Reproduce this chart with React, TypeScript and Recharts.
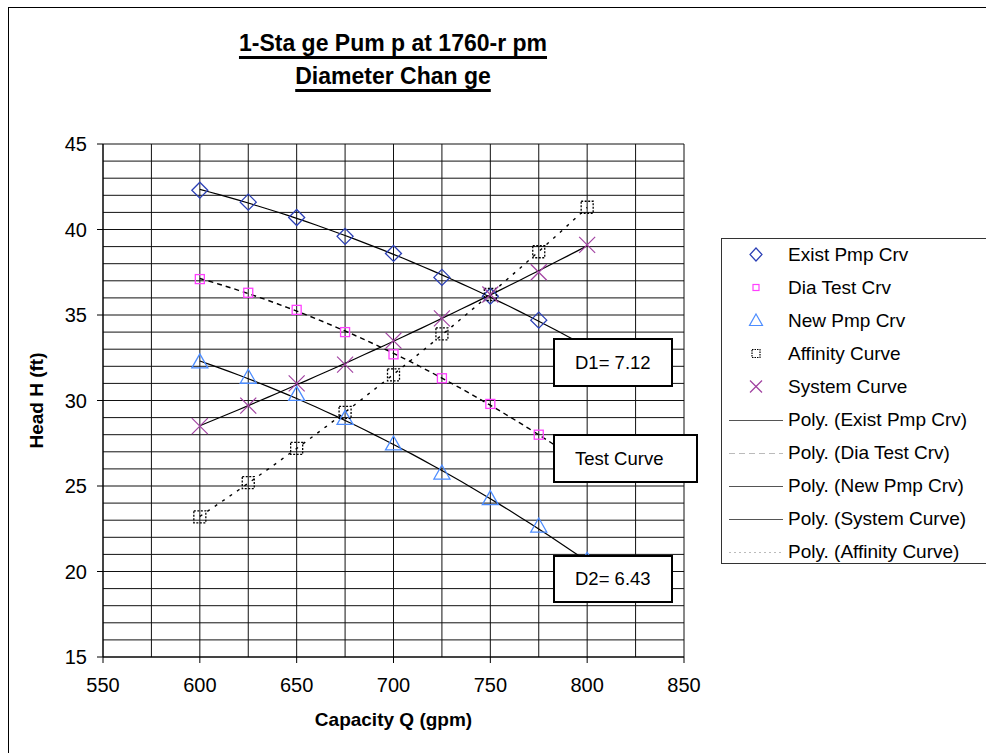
import React from 'react';
import { ScatterChart, Scatter, XAxis, YAxis, CartesianGrid, Legend } from 'recharts';

// capacity points (gpm) shared by every series
const capacity = [600, 625, 650, 675, 700, 725, 750, 775, 800];

// head (ft)
const existPump = [42.3, 41.6, 40.7, 39.6, 38.6, 37.2, 36.1, 34.7, 33.1];
const diaTest = [37.1, 36.3, 35.3, 34.0, 32.7, 31.3, 29.8, 28.0, 26.1];
const newPump = [32.2, 31.3, 30.3, 28.9, 27.4, 25.7, 24.2, 22.6, 20.6];
const affinity = [23.2, 25.2, 27.2, 29.3, 31.5, 33.9, 36.2, 38.7, 41.3];
const systemCurve = [28.5, 29.7, 31.0, 32.1, 33.5, 34.8, 36.2, 37.5, 39.1];

const xTicks = [550, 575, 600, 625, 650, 675, 700, 725, 750, 775, 800, 825, 850];
const yTicks = [
  15, 16, 17, 18, 19, 20, 21, 22, 23, 24, 25, 26, 27, 28, 29, 30,
  31, 32, 33, 34, 35, 36, 37, 38, 39, 40, 41, 42, 43, 44, 45,
];

const markerNames = ['Exist Pmp Crv', 'Dia Test Crv', 'New Pmp Crv', 'Affinity Curve', 'System Curve'];
const trendNames = [
  'Poly. (Exist Pmp Crv)',
  'Poly. (Dia Test Crv)',
  'Poly. (New Pmp Crv)',
  'Poly. (System Curve)',
  'Poly. (Affinity Curve)',
];

const toPoints = (heads: number[]) => capacity.map((x, i) => ({ x, y: heads[i] }));

// 2nd order least squares, same as the Excel "Poly." trendline
function polyTrend(heads: number[]) {
  let s0 = 0, s1 = 0, s2 = 0, s3 = 0, s4 = 0, t0 = 0, t1 = 0, t2 = 0;
  capacity.forEach((q, i) => {
    const u = (q - 700) / 100;
    const h = heads[i];
    s0 += 1; s1 += u; s2 += u * u; s3 += u * u * u; s4 += u * u * u * u;
    t0 += h; t1 += u * h; t2 += u * u * h;
  });
  const m = [
    [s0, s1, s2, t0],
    [s1, s2, s3, t1],
    [s2, s3, s4, t2],
  ];
  for (let c = 0; c < 3; c++) {
    for (let r = c + 1; r < 3; r++) {
      const f = m[r][c] / m[c][c];
      for (let k = c; k < 4; k++) m[r][k] -= f * m[c][k];
    }
  }
  const coef = [0, 0, 0];
  for (let r = 2; r >= 0; r--) {
    let v = m[r][3];
    for (let k = r + 1; k < 3; k++) v -= m[r][k] * coef[k];
    coef[r] = v / m[r][r];
  }
  const pts: { x: number; y: number }[] = [];
  for (let q = capacity[0]; q <= capacity[capacity.length - 1]; q += 5) {
    const u = (q - 700) / 100;
    pts.push({ x: q, y: coef[0] + coef[1] * u + coef[2] * u * u });
  }
  return pts;
}

const Diamond = ({ cx, cy }: any) => (
  <polygon
    points={`${cx},${cy - 8} ${cx + 8},${cy} ${cx},${cy + 8} ${cx - 8},${cy}`}
    fill="none" stroke="#2b3fb5" strokeWidth={1.3}
  />
);
const PinkSquare = ({ cx, cy }: any) => (
  <rect x={cx - 4.5} y={cy - 4.5} width={9} height={9} fill="none" stroke="#ff40ff" strokeWidth={1.3} />
);
const Triangle = ({ cx, cy }: any) => (
  <polygon
    points={`${cx},${cy - 9} ${cx + 8},${cy + 5} ${cx - 8},${cy + 5}`}
    fill="none" stroke="#4d8dff" strokeWidth={1.3}
  />
);
const DottedSquare = ({ cx, cy }: any) => (
  <rect x={cx - 6} y={cy - 6} width={12} height={12} fill="none" stroke="#000" strokeWidth={1.3} strokeDasharray="2 1.5" />
);
const Cross = ({ cx, cy }: any) => (
  <g stroke="#a040a0" strokeWidth={1.2}>
    <line x1={cx - 8} y1={cy - 8} x2={cx + 8} y2={cy + 8} />
    <line x1={cx - 8} y1={cy + 8} x2={cx + 8} y2={cy - 8} />
  </g>
);
const NoDot = () => <g />;

const XTick = ({ x, y, payload }: any) => {
  if (payload.value % 50 !== 0) return <g />;
  return (
    <g>
      <line x1={x} x2={x} y1={y} y2={y + 6} stroke="#000" />
      <text x={x} y={y + 35} textAnchor="middle" fontSize={20} fill="#000">{payload.value}</text>
    </g>
  );
};

const YTick = ({ x, y, payload }: any) => {
  if (payload.value % 5 !== 0) return <g />;
  return (
    <g>
      <line x1={x - 6} x2={x} y1={y} y2={y} stroke="#000" />
      <text x={x - 16} y={y + 7} textAnchor="end" fontSize={20} fill="#000">{payload.value}</text>
    </g>
  );
};

const legendIcons = [
  <polygon key="d" points="34,10 40,16.5 34,23 28,16.5" fill="none" stroke="#2b3fb5" strokeWidth={1.2} />,
  <rect key="s" x={31} y={13.5} width={6} height={6} fill="none" stroke="#ff40ff" strokeWidth={1.2} />,
  <polygon key="t" points="34,10 40.5,21.5 27.5,21.5" fill="none" stroke="#4d8dff" strokeWidth={1.2} />,
  <rect key="a" x={30} y={12.5} width={8} height={8} fill="none" stroke="#000" strokeWidth={1.2} strokeDasharray="1.5 1" />,
  <g key="x" stroke="#a040a0" strokeWidth={1.2}>
    <line x1={28} y1={10.5} x2={40} y2={22.5} />
    <line x1={28} y1={22.5} x2={40} y2={10.5} />
  </g>,
  <line key="l1" x1={7} x2={61} y1={16.5} y2={16.5} stroke="#555" strokeWidth={1.2} />,
  <line key="l2" x1={7} x2={61} y1={16.5} y2={16.5} stroke="#bbb" strokeWidth={1.2} strokeDasharray="6 4" />,
  <line key="l3" x1={7} x2={61} y1={16.5} y2={16.5} stroke="#555" strokeWidth={1.2} />,
  <line key="l4" x1={7} x2={61} y1={16.5} y2={16.5} stroke="#555" strokeWidth={1.2} />,
  <line key="l5" x1={7} x2={61} y1={16.5} y2={16.5} stroke="#bbb" strokeWidth={1.2} strokeDasharray="2 3" />,
];

const PumpLegend = () => {
  const names = [...markerNames, ...trendNames];
  return (
    <div
      style={{
        width: 300, height: 326, boxSizing: 'border-box', border: '1px solid #333',
        background: '#fff', position: 'relative',
      }}
    >
      {names.map((name, i) => (
        <div
          key={name}
          style={{ position: 'absolute', left: 0, top: i * 33.1 - 1, height: 33, display: 'flex', alignItems: 'center' }}
        >
          <svg width={66} height={33} style={{ display: 'block' }}>{legendIcons[i]}</svg>
          <span style={{ fontSize: 19, color: '#000', whiteSpace: 'nowrap' }}>{name}</span>
        </div>
      ))}
    </div>
  );
};

const boxStyle: React.CSSProperties = {
  position: 'absolute', boxSizing: 'border-box', border: '2px solid #000', background: '#fff',
  fontSize: 18.5, display: 'flex', alignItems: 'center', paddingLeft: 20, color: '#000',
};

export default function App() {
  return (
    <div
      style={{
        position: 'absolute', left: 0, top: 0, width: 986, height: 753, overflow: 'hidden',
        background: '#fff', fontFamily: '"Liberation Sans", Arial, sans-serif',
      }}
    >
      <div style={{ position: 'absolute', left: 8, top: 7, width: 1200, height: 1000, border: '1px solid #000' }} />
      <div
        style={{
          position: 'absolute', left: 193, top: 27, width: 400, textAlign: 'center', fontWeight: 'bold',
          fontSize: 23, lineHeight: '33px', textDecoration: 'underline', textDecorationThickness: 3,
          textUnderlineOffset: 5, color: '#000',
        }}
      >
        <div>1-Sta ge Pum p at 1760-r pm</div>
        <div>Diameter Chan ge</div>
      </div>
      <ScatterChart
        width={986}
        height={753}
        margin={{ top: 144, right: 302, bottom: 56, left: 23 }}
        style={{ position: 'absolute', left: 0, top: 0 }}
      >
        <CartesianGrid stroke="#111" strokeWidth={1} />
        <XAxis
          type="number"
          dataKey="x"
          domain={[550, 850]}
          ticks={xTicks}
          interval={0}
          height={40}
          tickSize={0}
          tickMargin={0}
          tickLine={false}
          tick={<XTick />}
          axisLine={{ stroke: '#000' }}
          label={{ value: 'Capacity Q (gpm)', position: 'bottom', offset: 16, fontWeight: 'bold', fontSize: 19, fill: '#000' }}
        />
        <YAxis
          type="number"
          dataKey="y"
          domain={[15, 45]}
          ticks={yTicks}
          interval={0}
          width={80}
          tickSize={0}
          tickMargin={0}
          tickLine={false}
          tick={<YTick />}
          axisLine={{ stroke: '#000' }}
          label={{
            value: 'Head H (ft)', angle: -90, position: 'insideLeft', offset: 13,
            fontWeight: 'bold', fontSize: 19, fill: '#000', style: { textAnchor: 'middle' },
          }}
        />
        <Legend
          layout="vertical"
          align="center"
          verticalAlign="middle"
          content={<PumpLegend />}
          wrapperStyle={{ left: 721, top: 238, width: 300, height: 326 }}
        />
        <Scatter name={trendNames[0]} data={polyTrend(existPump)} shape={NoDot} line={{ stroke: '#000', strokeWidth: 1.2 }} lineType="joint" isAnimationActive={false} />
        <Scatter name={trendNames[1]} data={polyTrend(diaTest)} shape={NoDot} line={{ stroke: '#000', strokeWidth: 1.4, strokeDasharray: '5 4' }} lineType="joint" isAnimationActive={false} />
        <Scatter name={trendNames[2]} data={polyTrend(newPump)} shape={NoDot} line={{ stroke: '#000', strokeWidth: 1.2 }} lineType="joint" isAnimationActive={false} />
        <Scatter name={trendNames[3]} data={polyTrend(systemCurve)} shape={NoDot} line={{ stroke: '#000', strokeWidth: 1.2 }} lineType="joint" isAnimationActive={false} />
        <Scatter name={trendNames[4]} data={polyTrend(affinity)} shape={NoDot} line={{ stroke: '#000', strokeWidth: 1.4, strokeDasharray: '3 6' }} lineType="joint" isAnimationActive={false} />
        <Scatter name={markerNames[0]} data={toPoints(existPump)} shape={Diamond} isAnimationActive={false} />
        <Scatter name={markerNames[1]} data={toPoints(diaTest)} shape={PinkSquare} isAnimationActive={false} />
        <Scatter name={markerNames[2]} data={toPoints(newPump)} shape={Triangle} isAnimationActive={false} />
        <Scatter name={markerNames[3]} data={toPoints(affinity)} shape={DottedSquare} isAnimationActive={false} />
        <Scatter name={markerNames[4]} data={toPoints(systemCurve)} shape={Cross} isAnimationActive={false} />
      </ScatterChart>
      <div style={{ ...boxStyle, left: 553, top: 338, width: 120, height: 49 }}>D1= 7.12</div>
      <div style={{ ...boxStyle, left: 553, top: 434, width: 145, height: 49 }}>Test Curve</div>
      <div style={{ ...boxStyle, left: 553, top: 555, width: 120, height: 48 }}>D2= 6.43</div>
    </div>
  );
}
